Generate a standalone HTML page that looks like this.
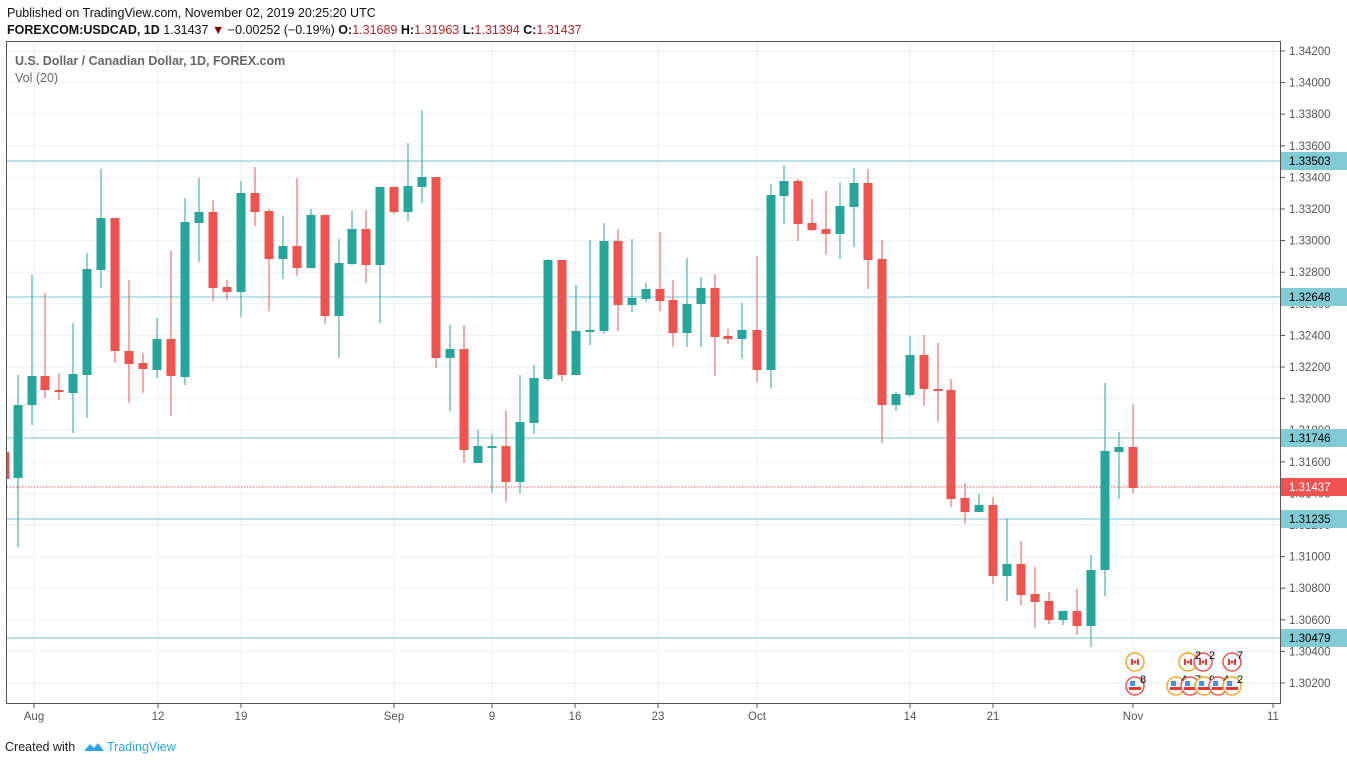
<!DOCTYPE html>
<html><head><meta charset="utf-8"><style>
body{margin:0;background:#fff;width:1347px;height:765px;overflow:hidden;font-family:"Liberation Sans",sans-serif}
</style></head><body>
<svg id="s" width="1347" height="765" xmlns="http://www.w3.org/2000/svg" font-family="Liberation Sans, sans-serif">
<text x="7" y="17" font-size="12.5" fill="#111">Published on TradingView.com, November 02, 2019 20:25:20 UTC</text>
<text x="7" y="34" font-size="12.5" fill="#111"><tspan font-weight="bold">FOREXCOM:USDCAD, 1D</tspan> 1.31437 <tspan fill="#8b0000">▼</tspan> −0.00252 (−0.19%) <tspan font-weight="bold">O:</tspan><tspan fill="#b22">1.31689</tspan> <tspan font-weight="bold">H:</tspan><tspan fill="#b22">1.31963</tspan> <tspan font-weight="bold">L:</tspan><tspan fill="#b22">1.31394</tspan> <tspan font-weight="bold">C:</tspan><tspan fill="#b22">1.31437</tspan></text>
<g id="g"></g>
<rect x="6.5" y="41.5" width="1274" height="662" fill="none" stroke="#555" stroke-width="1"/>
<text x="15" y="65" font-size="12.5" fill="#666" font-weight="bold">U.S. Dollar / Canadian Dollar, 1D, FOREX.com</text>
<text x="15" y="82" font-size="12.5" fill="#666">Vol (20)</text>
<text x="5" y="751" font-size="12.5" fill="#222">Created with</text>
<path d="M84 751 l6 -7 l4 4 l4 -5 l6 8 z" fill="#2fa4e7"/>
<text x="107" y="751" font-size="12.5" fill="#2fa4e7">TradingView</text>
</svg>
<script>
var g=document.getElementById('g'),h='';
function Y(p){return 51+(1.342-p)*15800;}
var xs=[[34,'Aug'],[158,'12'],[241,'19'],[394,'Sep'],[492,'9'],[575,'16'],[658,'23'],[757,'Oct'],[910,'14'],[993,'21'],[1133,'Nov'],[1273,'11']];
for(var i=0;i<xs.length;i++){h+='<line x1="'+xs[i][0]+'" y1="42" x2="'+xs[i][0]+'" y2="703" stroke="#e8eff3"/>';
h+='<line x1="'+xs[i][0]+'" y1="703" x2="'+xs[i][0]+'" y2="708" stroke="#555"/>';
h+='<text x="'+xs[i][0]+'" y="720" font-size="11.5" fill="#555" text-anchor="middle">'+xs[i][1]+'</text>';}
for(var k=0;k<=20;k++){var p=1.342-k*0.002,y=Y(p);h+='<line x1="7" y1="'+y+'" x2="1280" y2="'+y+'" stroke="#e8eff3"/>';
h+='<line x1="1280" y1="'+y+'" x2="1285" y2="'+y+'" stroke="#555"/>';
h+='<text x="1289" y="'+(y+4)+'" font-size="11.5" fill="#555">'+p.toFixed(5)+'</text>';}
var hl=[[161,'1.33503'],[297,'1.32648'],[438,'1.31746'],[519,'1.31235'],[638,'1.30479']];
for(i=0;i<hl.length;i++){var y=hl[i][0];h+='<line x1="7" y1="'+y+'" x2="1280" y2="'+y+'" stroke="#8fd0dc" stroke-width="1.3"/>';}
h+='<line x1="7" y1="487" x2="1280" y2="487" stroke="#ef5350" stroke-dasharray="1.5,1.5"/>';
var c=[[8,452,479,452,479,0],[18,405,478,375,547,1],[32,376,405,275,425,1],[45,376,390,293,398,0],[59,390,392,373,400,0],[73,374,393,323,433,1],[87,269,375,253,418,1],[101,218,270,169,288,1],[115,218,351,218,363,0],[129,351,364,280,403,0],[143,363,369,353,393,0],[157,339,370,318,378,1],[171,339,376,251,416,0],[185,222,377,198,385,1],[199,212,223,178,262,1],[213,212,288,200,301,0],[227,287,292,280,300,0],[241,193,292,181,317,1],[255,193,212,167,226,0],[269,211,259,209,311,0],[283,246,259,216,279,1],[297,246,268,178,276,0],[311,215,268,209,268,1],[325,215,316,214,324,0],[339,263,316,239,358,1],[352,229,264,211,265,1],[366,229,265,210,283,0],[380,187,265,187,323,1],[394,187,212,187,214,0],[408,186,212,143,221,1],[422,177,187,110,203,1],[436,177,358,177,368,0],[450,349,358,325,411,1],[464,349,450,325,463,0],[478,446,463,430,463,1],[492,446,447,434,493,1],[506,446,482,411,502,0],[520,422,482,375,493,1],[534,378,423,365,434,1],[548,260,379,259,381,1],[562,260,375,260,381,0],[576,331,375,285,375,1],[590,330,332,240,345,1],[604,241,331,223,334,1],[618,241,305,229,331,0],[632,298,305,239,312,1],[646,289,299,283,302,1],[660,289,301,232,311,0],[673,300,333,280,347,0],[687,304,333,258,347,1],[701,288,304,277,347,1],[715,288,337,274,376,0],[728,336,339,329,344,0],[742,330,339,303,359,1],[757,330,370,256,382,0],[771,195,370,184,388,1],[784,181,196,165,224,1],[798,181,224,179,241,0],[812,223,230,199,231,0],[826,229,234,191,255,0],[840,206,234,182,259,1],[854,183,207,168,247,1],[868,183,260,169,289,0],[882,259,405,240,443,0],[896,394,405,392,411,1],[910,355,395,336,397,1],[924,355,389,335,406,0],[938,389,390,343,422,0],[951,390,499,379,507,0],[965,498,512,483,524,0],[979,505,512,494,512,1],[993,505,576,497,584,0],[1007,564,576,519,601,1],[1021,564,595,541,605,0],[1035,594,602,567,628,0],[1049,601,620,592,624,0],[1063,611,620,611,625,1],[1077,611,626,589,635,0],[1091,570,626,555,647,1],[1105,451,570,383,596,1],[1119,447,452,432,499,1],[1133,447,488,404,493,0]];
for(i=0;i<c.length;i++){var d=c[i],col=d[5]?'#26a69a':'#ef5350',x0=d[0]-4.5,w=9;if(i==0){x0=7;w=2.5;}
h+='<line x1="'+d[0]+'" y1="'+d[3]+'" x2="'+d[0]+'" y2="'+d[4]+'" stroke="'+col+'" stroke-width="1"/>';
h+='<rect x="'+x0+'" y="'+d[1]+'" width="'+w+'" height="'+Math.max(2,d[2]-d[1])+'" fill="'+col+'"/>';}
for(i=0;i<hl.length;i++){var y=hl[i][0];h+='<rect x="1281" y="'+(y-9)+'" width="66" height="18" fill="#80cbd6"/><text x="1289" y="'+(y+4)+'" font-size="11.5" fill="#000">'+hl[i][1]+'</text>';}
h+='<rect x="1281" y="478" width="66" height="18" fill="#ef5350"/><text x="1289" y="491" font-size="11.5" fill="#fff">1.31437</text>';
function flag(x,y,ca,ring){return '<circle cx="'+x+'" cy="'+y+'" r="9" fill="#fff" stroke="'+ring+'" stroke-width="1.5"/>'+(ca?'<rect x="'+(x-4)+'" y="'+(y-3)+'" width="8" height="6" fill="#e53935"/><rect x="'+(x-2)+'" y="'+(y-3)+'" width="4" height="6" fill="#fff"/><circle cx="'+x+'" cy="'+y+'" r="1.5" fill="#e53935"/>':'<rect x="'+(x-6)+'" y="'+(y+1)+'" width="12" height="3" fill="#e53935"/><rect x="'+(x-5)+'" y="'+(y-5)+'" width="5" height="5" fill="#4a90e2"/>');}
h+=flag(1135,662,1,'#f5a623')+flag(1135,686,0,'#ef5350')+'<text x="1140" y="683" font-size="11">8</text>';
var fx=[1188,1203,1232];for(i=0;i<3;i++)h+=flag(fx[i],662,1,i==0?'#f5a623':'#ef5350');
h+='<text x="1195" y="659" font-size="11">2</text><text x="1209" y="659" font-size="11">2</text><text x="1237" y="659" font-size="11">7</text>';
var ux=[1176,1190,1204,1218,1232],nums=['4','7','9','4','2'];for(i=0;i<5;i++){h+=flag(ux[i],686,0,i%2?'#ef5350':'#f5a623');h+='<text x="'+(ux[i]+5)+'" y="683" font-size="11">'+nums[i]+'</text>';}
g.innerHTML=h;
</script>
</body></html>
